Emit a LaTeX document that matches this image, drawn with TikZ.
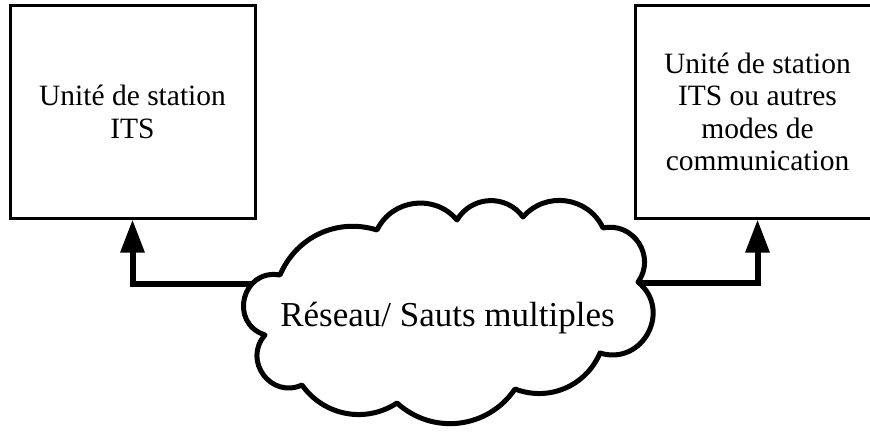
\documentclass[tikz,border=0pt]{standalone}
\usepackage{fontspec}
\setmainfont{Liberation Serif}
\usetikzlibrary{arrows.meta}

\tikzset{
  unitbox/.style={draw, line width=3pt, fill=white, minimum width=245pt,
    minimum height=212pt, align=center, inner sep=0pt,
    font=\fontsize{29.5pt}{32.5pt}\selectfont},
  link/.style={line width=6pt, line join=miter,
    -{Triangle[width=23pt,length=33pt]}},
  cloudline/.style={line width=5pt, fill=white, line join=round},
  cloudtext/.style={font=\fontsize{35pt}{38pt}\selectfont, inner sep=0pt}
}

\begin{document}
\begin{tikzpicture}[x=1pt, y=1pt]
  \clip (0,0) rectangle (870,432);
  \fill[white] (0,0) rectangle (870,432);

  % the two station units
  \node[unitbox] (lbox) at (132.5,320) {Unité de station\\ITS};
  \node[unitbox] (rbox) at (757.5,320)
    {Unité de station\\ITS ou autres\\modes de\\communication};

  % links leaving the network cloud
  \coordinate (cl) at (320,148);
  \coordinate (cr) at (600,149);
  \draw[link] (cl) -| (lbox.south);
  \draw[link] (cr) -| (rbox.south);

  % cloud outline, bump by bump
  \coordinate (c1) at (265,97);
  \coordinate (c2) at (280,157);
  \coordinate (c3) at (377,202);
  \coordinate (c4) at (457,212);
  \coordinate (c5) at (523,215);
  \coordinate (c6) at (603,204);
  \coordinate (c7) at (638,150);
  \coordinate (c8) at (600,79);
  \coordinate (c9) at (515,43);
  \coordinate (c10) at (397,29);
  \coordinate (c11) at (302,47);
  \draw[cloudline]
    (c1) to[bend left=86, looseness=1.6] (c2)
         to[bend left=42, looseness=1.0] (c3)
         to[bend left=57, looseness=1.1] (c4)
         to[bend left=57, looseness=1.1] (c5)
         to[bend left=57, looseness=1.1] (c6)
         to[bend left=69, looseness=1.24] (c7)
         to[bend left=79, looseness=1.42] (c8)
         to[bend left=44, looseness=1.0] (c9)
         to[bend left=49, looseness=1.04] (c10)
         to[bend left=44, looseness=1.0] (c11)
         to[bend left=78, looseness=1.4] (c1) -- cycle;
  \node[cloudtext, anchor=base] (net) at (447.5,106) {Réseau/ Sauts multiples};
\end{tikzpicture}
\end{document}
